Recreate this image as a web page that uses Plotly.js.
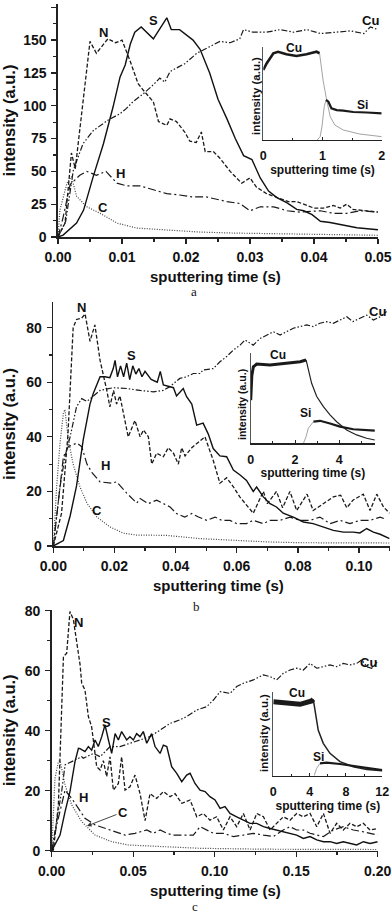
<!DOCTYPE html>
<html><head><meta charset="utf-8">
<script src="https://cdn.plot.ly/plotly-3.0.1.min.js"></script>
<style>html,body{margin:0;padding:0;background:#fff}#chart{width:392px;height:914px}</style>
</head><body><div id="chart"></div>
<script>
// ---------- Panel a (main) ----------
const aS_t = [0, 0.0008, 0.0029, 0.004, 0.0055, 0.0071, 0.0086, 0.0097, 0.0105, 0.0113, 0.012, 0.013, 0.0149, 0.017, 0.0177, 0.019, 0.0211, 0.0222, 0.0237, 0.025, 0.0264, 0.0277, 0.029, 0.0303, 0.0316, 0.0329, 0.0342, 0.0358, 0.0373, 0.0384, 0.0397, 0.041, 0.0425, 0.0446, 0.0467, 0.05];
const aS_v = [0, 1.5, 10.6, 20.5, 46, 71, 99, 122, 131, 147, 156, 160, 151, 167, 158, 158, 150, 143, 125, 105, 90, 75, 62, 59, 45, 35, 30, 26, 21, 20, 17, 12, 11, 9, 7, 5.5];
const aN_t = [0, 0.0011, 0.0021, 0.0027, 0.005, 0.006, 0.0078, 0.009, 0.01, 0.0112, 0.0125, 0.0133, 0.0149, 0.0157, 0.017, 0.0175, 0.0185, 0.0198, 0.0206, 0.0216, 0.0224, 0.023, 0.0243, 0.0253, 0.0269, 0.0287, 0.03, 0.031, 0.0326, 0.0342, 0.036, 0.0373, 0.04, 0.0415, 0.043, 0.0441, 0.0451, 0.0461, 0.048, 0.05];
const aN_v = [0, 10.6, 64, 52, 149, 140, 151, 148, 150, 135, 117, 112, 103, 88, 85, 90, 88, 80, 73, 72, 80, 65, 65, 60, 50, 41, 45, 38, 33, 30, 27, 27, 22, 22, 24, 22, 25, 21, 20, 19];
const aCu_t = [0, 0.0012, 0.0024, 0.0039, 0.0055, 0.0078, 0.0097, 0.0107, 0.0117, 0.0133, 0.0149, 0.0159, 0.0167, 0.0175, 0.019, 0.0198, 0.0217, 0.0237, 0.0253, 0.0269, 0.0284, 0.029, 0.0305, 0.0326, 0.0347, 0.0368, 0.0389, 0.041, 0.0431, 0.0457, 0.0478, 0.0488, 0.05];
const aCu_v = [0, 12, 51, 71, 81, 89, 94, 98, 103, 109, 116, 121, 118, 126, 130, 132, 140, 145, 149, 148, 151, 158, 156, 156, 158, 156, 158, 155, 156, 157, 155, 160, 158];
const aH_t = [0, 0.0008, 0.0019, 0.0034, 0.0045, 0.006, 0.0075, 0.0092, 0.0107, 0.0128, 0.0149, 0.017, 0.019, 0.0211, 0.0232, 0.0264, 0.0284, 0.03, 0.0316, 0.0337, 0.0358, 0.0378, 0.041, 0.0431, 0.0451, 0.0472, 0.05];
const aH_v = [0, 15, 40, 47, 50, 47, 50, 41, 39, 39, 36, 33, 32, 30.5, 30.5, 27, 25.5, 20, 23, 23, 20, 19, 20, 18, 18, 20, 19];
const aC_t = [0, 0.0003, 0.0014, 0.0021, 0.0029, 0.0045, 0.0066, 0.0092, 0.0123, 0.0169, 0.022, 0.0274, 0.0326, 0.0378, 0.0431, 0.05];
const aC_v = [0, 20.5, 41, 46, 31, 23, 18, 10.6, 6.8, 5.6, 3.8, 3, 2.5, 2, 1.5, 1.3];

// ---------- Panel b (main) ----------
const bN_t = [0, 0.0027, 0.0048, 0.0065, 0.0076, 0.0093, 0.0104, 0.012, 0.0136, 0.0153, 0.0175, 0.0185, 0.0197, 0.0207, 0.0218, 0.0245, 0.0267, 0.0284, 0.0295, 0.0311, 0.0322, 0.0338, 0.036, 0.0376, 0.0393, 0.0409, 0.042, 0.0431, 0.0453, 0.0496, 0.0523, 0.0545, 0.0567, 0.0589, 0.061, 0.0654, 0.0687, 0.07, 0.073, 0.075, 0.0774, 0.0796, 0.083, 0.085, 0.0883, 0.0916, 0.094, 0.096, 0.098, 0.1014, 0.1036, 0.1058, 0.108, 0.11];
const bN_v = [0, 12, 41, 80, 83, 83.5, 85, 75, 81, 68, 57, 51, 57, 52, 55, 40, 46, 40, 42.5, 40, 30, 34, 32.7, 36, 34, 30, 36, 33, 36, 40, 31.4, 23, 25, 21.7, 18, 12, 20, 15.5, 20, 14, 20, 13, 19, 13, 15.5, 18, 18.6, 14, 16.8, 19, 13, 19, 14.3, 12];
const bS_t = [0, 0.0033, 0.0055, 0.0076, 0.0098, 0.012, 0.0131, 0.0153, 0.0169, 0.0185, 0.0196, 0.0202, 0.021, 0.022, 0.023, 0.024, 0.025, 0.026, 0.027, 0.028, 0.029, 0.030, 0.032, 0.034, 0.035, 0.036, 0.0393, 0.0403, 0.0425, 0.0436, 0.0453, 0.0469, 0.049, 0.0507, 0.0523, 0.0545, 0.0567, 0.0589, 0.0611, 0.0632, 0.0654, 0.0665, 0.0687, 0.0709, 0.073, 0.0752, 0.0785, 0.0818, 0.085, 0.0883, 0.0916, 0.0949, 0.0981, 0.1003, 0.1025, 0.1047, 0.1069, 0.11];
const bS_v = [0, 2, 11, 22, 39, 52, 56, 62, 62, 61.7, 65, 68, 62, 66, 62, 67, 61, 66, 63, 65, 62, 64, 61, 60, 64, 59, 58, 55, 57.7, 54.7, 52, 44.3, 45, 41, 35.7, 33, 32.7, 27.8, 26, 24, 20, 21.6, 18, 15.5, 14.3, 12, 10.6, 8.8, 8.2, 7, 5.7, 5.1, 5.1, 4.8, 6.4, 5.1, 4.3, 2.7];
const bCu_t = [0, 0.0011, 0.0022, 0.0038, 0.0055, 0.0076, 0.0093, 0.011, 0.0131, 0.0153, 0.0196, 0.024, 0.0284, 0.0327, 0.036, 0.038, 0.0414, 0.0436, 0.0458, 0.048, 0.049, 0.0523, 0.0545, 0.0567, 0.0589, 0.0611, 0.0627, 0.0654, 0.0676, 0.0698, 0.072, 0.0742, 0.0763, 0.0785, 0.0807, 0.0829, 0.085, 0.0872, 0.0894, 0.0916, 0.0938, 0.096, 0.098, 0.1003, 0.1025, 0.1047, 0.1069, 0.109];
const bCu_v = [0, 10.7, 21.7, 32.7, 40, 51, 54, 53, 55, 57, 58, 57.7, 57, 56.5, 57, 58.3, 61.4, 62, 63.2, 63.2, 64.5, 65, 67.5, 69.4, 71.8, 73.6, 75.5, 73.6, 76, 77.3, 78.5, 77.3, 78.5, 79.8, 80.4, 81, 80.4, 81.6, 82.2, 81.6, 82.8, 84, 82.2, 83.4, 84.6, 82.8, 84, 85.9];
const bH_t = [0, 0.0015, 0.0033, 0.0049, 0.0077, 0.0093, 0.011, 0.0126, 0.0153, 0.019, 0.0207, 0.024, 0.0273, 0.0284, 0.031, 0.0338, 0.036, 0.0382, 0.0403, 0.043, 0.0453, 0.0475, 0.0502, 0.0529, 0.0551, 0.0578, 0.06, 0.0632, 0.0654, 0.0687, 0.0709, 0.0742, 0.0774, 0.0807, 0.084, 0.0872, 0.0905, 0.0938, 0.097, 0.1003, 0.1036, 0.1069, 0.109];
const bH_v = [0, 15, 32.7, 36.4, 37.7, 36.4, 30, 27, 23.5, 23, 23.5, 19.4, 15.7, 17.4, 15.5, 16.8, 15.5, 14.3, 11.9, 10.6, 11.9, 10.6, 9.4, 10.6, 9.4, 9.4, 8.2, 8.2, 9.4, 8.2, 9.4, 9.4, 10.6, 9.4, 9.4, 10.6, 8.2, 9.4, 8.2, 9.4, 9.4, 10.6, 9.7];
const bC_t = [0, 0.0011, 0.0022, 0.0033, 0.0038, 0.0049, 0.0065, 0.0087, 0.011, 0.0142, 0.0185, 0.0229, 0.0273, 0.037, 0.048, 0.059, 0.07, 0.0807, 0.095, 0.11];
const bC_v = [0, 21.7, 37.7, 48.7, 50, 39, 30, 21.7, 15.7, 10.7, 7, 4.7, 4, 3.9, 2.7, 2.1, 1.5, 1.2, 1.2, 1.1];

// ---------- Panel c (main) ----------
const cN_t = [0, 0.001, 0.0041, 0.0072, 0.0092, 0.0112, 0.0133, 0.0153, 0.0174, 0.0184, 0.0204, 0.0225, 0.0245, 0.0276, 0.0297, 0.0317, 0.0337, 0.0358, 0.0378, 0.0409, 0.0429, 0.045, 0.048, 0.0511, 0.0542, 0.0573, 0.0603, 0.0644, 0.0685, 0.0726, 0.0757, 0.0798, 0.0849, 0.089, 0.093, 0.0971, 0.1012, 0.1053, 0.1094, 0.1135, 0.1176, 0.1217, 0.1258, 0.1299, 0.134, 0.138, 0.1421, 0.1462, 0.1503, 0.1544, 0.1585, 0.1626, 0.1667, 0.1708, 0.1748, 0.1789, 0.183, 0.1871, 0.1912, 0.1953, 0.2];
const cN_v = [0, 0, 15.2, 64.7, 65.8, 79.7, 77, 69, 62, 55.8, 53.6, 44.7, 41.3, 28, 26.9, 30, 24.7, 31.3, 20.2, 22.4, 31.3, 20.2, 21.3, 25.2, 19, 10, 19, 17.4, 19.7, 18, 19, 15.8, 16.9, 11.3, 12.4, 10.2, 11.3, 6.9, 11.3, 8, 12.4, 6.9, 12.4, 11.3, 6.9, 9.1, 11.3, 10.2, 12.4, 11.3, 12.4, 8, 12.4, 5.8, 9.1, 6.9, 9.1, 8, 9.1, 6.9, 7.4];
const cS_t = [0, 0.0051, 0.0082, 0.0112, 0.0143, 0.0164, 0.0174, 0.0204, 0.0225, 0.0245, 0.0266, 0.0286, 0.0307, 0.0327, 0.0348, 0.0368, 0.0389, 0.0409, 0.0429, 0.046, 0.048, 0.0501, 0.0521, 0.0542, 0.0562, 0.0583, 0.0613, 0.0634, 0.0665, 0.0685, 0.0706, 0.0736, 0.0767, 0.0798, 0.0828, 0.0849, 0.0879, 0.091, 0.0941, 0.0971, 0.1002, 0.1033, 0.1063, 0.1094, 0.1135, 0.1176, 0.1217, 0.1258, 0.1299, 0.134, 0.138, 0.1421, 0.1462, 0.1503, 0.1544, 0.1585, 0.1626, 0.1667, 0.1708, 0.1748, 0.1789, 0.183, 0.1871, 0.1912, 0.1953, 0.2];
const cS_v = [0, 5.2, 13, 19.7, 29.7, 34.1, 34, 33, 34.7, 33.5, 36.9, 34.7, 38, 41.9, 36.9, 32.4, 39, 36.9, 39.7, 36.9, 38, 36.9, 39, 38, 39.7, 35.8, 39, 34.7, 32.4, 35.2, 34.7, 28, 25.8, 23, 25.2, 25.8, 22.4, 20.2, 19.7, 18, 16.9, 14.1, 14.7, 12.4, 11.3, 10.2, 9.1, 9.1, 8, 7.4, 6.9, 6.3, 5.8, 5.2, 4.1, 4.7, 3.6, 3, 3, 2.4, 3, 2.4, 1.9, 3, 2.4, 3];
const cCu_t = [0, 0.0041, 0.0061, 0.0082, 0.0123, 0.0184, 0.0194, 0.0256, 0.0297, 0.0358, 0.0419, 0.048, 0.0542, 0.0603, 0.0665, 0.0726, 0.0787, 0.0828, 0.089, 0.0951, 0.0992, 0.1033, 0.1094, 0.1135, 0.1176, 0.1237, 0.1299, 0.134, 0.138, 0.1421, 0.1462, 0.1503, 0.1544, 0.1585, 0.1626, 0.1667, 0.1708, 0.1748, 0.1789, 0.183, 0.1871, 0.1902, 0.1933, 0.1963, 0.2];
const cCu_v = [0, 13, 19.7, 28.6, 29.7, 31.3, 30.8, 32.4, 31.3, 34.7, 34.7, 35.8, 36.9, 38, 40.2, 42.4, 43.6, 44.7, 46.9, 48, 50.2, 53, 52.4, 54.7, 55.8, 56.9, 58.6, 58, 56.9, 59.1, 60.2, 60.8, 60.2, 62.4, 60.8, 61.3, 61.9, 61.3, 62.4, 61.9, 62.4, 63.6, 61.3, 60.8, 63];
const cH_t = [0, 0.0031, 0.0082, 0.0123, 0.0164, 0.0204, 0.0266, 0.0327, 0.0389, 0.045, 0.0511, 0.0583, 0.0624, 0.0665, 0.0706, 0.0746, 0.0808, 0.0869, 0.091, 0.0951, 0.0992, 0.1053, 0.1115, 0.1176, 0.1237, 0.1299, 0.136, 0.1421, 0.1462, 0.1503, 0.1544, 0.1585, 0.1626, 0.1667, 0.1697, 0.1728, 0.1789, 0.1851, 0.1912, 0.1953, 0.2];
const cH_v = [0, 8.6, 20.2, 17.4, 14.1, 10.8, 8.6, 7.4, 6.3, 5.2, 5.8, 6.9, 5.8, 6.9, 5.8, 5.2, 5.2, 5.2, 8, 6.9, 5.8, 5.8, 4.7, 5.2, 5.8, 5.2, 4.7, 6.9, 8, 6.9, 6.9, 5.8, 5.2, 4.7, 5.8, 6.9, 8, 6.9, 6.3, 5.8, 5.2];
const cC_t = [0, 0.002, 0.0041, 0.0051, 0.0082, 0.0123, 0.0184, 0.0266, 0.0368, 0.047, 0.0706, 0.091, 0.13, 0.2];
const cC_v = [0, 24, 29.7, 30, 21.9, 15.2, 9.7, 5.2, 3, 1.9, 1.3, 0.8, 0.5, 0.4];

// ---------- Insets (relative intensity) ----------
const iaCu_t = [0, 0.056, 0.17, 0.25, 0.39, 0.56, 0.73, 0.9, 0.95];
const iaCu_v = [75, 82, 93, 94.6, 92, 90, 92, 94.6, 93];
const iaCuTail_t = [0.95, 1.01, 1.07, 1.13, 1.21, 1.35, 1.63, 2];
const iaCuTail_v = [93, 64, 43, 25, 16, 10.7, 6.4, 3.6];
const iaSiRise_t = [0.91, 0.96, 0.99, 1.03, 1.06];
const iaSiRise_v = [0, 3.6, 14, 36, 43];
const iaSi_t = [1.06, 1.1, 1.15, 1.24, 1.35, 1.52, 1.75, 2];
const iaSi_v = [43, 41, 34, 32, 31.5, 30, 29.5, 28.6];

const ibCu_t = [0, 0.05, 0.12, 0.27, 0.87, 1.62, 2.23, 2.5];
const ibCu_v = [48, 75, 85, 88, 87, 89, 90.7, 92.6];
const ibCuTail_t = [2.5, 2.6, 2.75, 2.98, 3.28, 3.58, 3.88, 4.33, 4.78, 5.23, 5.6];
const ibCuTail_v = [92.6, 81.5, 66.7, 52, 40.7, 31.5, 24, 14.8, 9.3, 5.6, 3.7];
const ibSiRise_t = [2.38, 2.5, 2.6, 2.83];
const ibSiRise_v = [0, 7.4, 16.7, 24];
const ibSi_t = [2.83, 3.13, 3.58, 4.03, 4.63, 5.6];
const ibSi_v = [24, 25, 22, 18.5, 15.6, 14];

const icCu_t = [0, 1.47, 2.94, 4.22, 4.4];
const icCu_v = [88, 86, 85, 89, 91];
const icCuTail_t = [4.4, 4.6, 4.95, 5.5, 6.24, 7.34, 8.8, 10.3, 12];
const icCuTail_v = [91, 78, 54, 38.5, 26.6, 16.7, 10.7, 7.5, 6];
const icSiRise_t = [4.5, 4.77, 5.14];
const icSiRise_v = [0, 8.7, 14.7];
const icSi_t = [5.14, 5.87, 7.34, 9.5, 12];
const icSi_v = [14.7, 15.5, 13.9, 10.7, 6.7];

// ---------- Styling ----------
const W = 392, H = 914;
const FONT = 'Liberation Sans, Arial, sans-serif';
const SERIF = 'Liberation Serif, Times New Roman, serif';
const DASH = {
  N: '4px,2px',
  Cu: '6px,2px,1.5px,2px,1.5px,2px',
  H: '8px,3px,2px,3px',
  C: '1px,1.5px',
  S: 'solid'
};
const traces = [];
function add(x, y, xa, ya, dash, width, color) {
  traces.push({type: 'scatter', mode: 'lines', x: x, y: y, xaxis: xa, yaxis: ya,
    line: {color: color, width: width, dash: dash}, hoverinfo: 'skip', showlegend: false});
}
function panel(xa, ya, S_t, S_v, N_t, N_v, Cu_t, Cu_v, H_t, H_v, C_t, C_v) {
  add(C_t, C_v, xa, ya, DASH.C, 1.2, '#444');
  add(H_t, H_v, xa, ya, DASH.H, 1.2, '#1a1a1a');
  add(Cu_t, Cu_v, xa, ya, DASH.Cu, 1.2, '#1a1a1a');
  add(N_t, N_v, xa, ya, DASH.N, 1.3, '#1a1a1a');
  add(S_t, S_v, xa, ya, DASH.S, 1.4, '#111');
}
panel('x', 'y', aS_t, aS_v, aN_t, aN_v, aCu_t, aCu_v, aH_t, aH_v, aC_t, aC_v);
panel('x2', 'y2', bS_t, bS_v, bN_t, bN_v, bCu_t, bCu_v, bH_t, bH_v, bC_t, bC_v);
panel('x3', 'y3', cS_t, cS_v, cN_t, cN_v, cCu_t, cCu_v, cH_t, cH_v, cC_t, cC_v);

function inset(xa, ya, cu_t, cu_v, cut_t, cut_v, sr_t, sr_v, si_t, si_v, plateauW, tailColor, tailW) {
  add(cut_t, cut_v, xa, ya, 'solid', tailW, tailColor);
  add(sr_t, sr_v, xa, ya, 'solid', 0.9, '#999');
  add(cu_t, cu_v, xa, ya, 'solid', plateauW, '#1a1a1a');
  add(si_t, si_v, xa, ya, 'solid', 2.2, '#1a1a1a');
}
inset('x4', 'y4', iaCu_t, iaCu_v, iaCuTail_t, iaCuTail_v, iaSiRise_t, iaSiRise_v, iaSi_t, iaSi_v, 2.6, '#999', 0.9);
inset('x5', 'y5', ibCu_t, ibCu_v, ibCuTail_t, ibCuTail_v, ibSiRise_t, ibSiRise_v, ibSi_t, ibSi_v, 3, '#222', 1.2);
inset('x6', 'y6', icCu_t, icCu_v, icCuTail_t, icCuTail_v, icSiRise_t, icSiRise_v, icSi_t, icSi_v, 5, '#222', 1.5);

const px = v => v / W;
const py = v => 1 - v / H;

function mainX(dom, range, dtick, minor, anchor) {
  return {domain: [px(dom[0]), px(dom[1])], range: range, anchor: anchor, dtick: dtick, tick0: 0,
    tickformat: '.2f', showline: true, linecolor: '#222', linewidth: 1.6, ticks: 'outside', ticklen: 5,
    tickwidth: 1.3, tickcolor: '#222', showgrid: false, zeroline: false, ticklabelstandoff: 2,
    minor: {ticks: 'outside', ticklen: 3, dtick: minor, tick0: 0, tickcolor: '#222', tickwidth: 1.1, showgrid: false},
    tickfont: {family: FONT, size: 14, weight: 'bold', color: '#111'}};
}
function mainY(dom, range, dtick, minor, anchor) {
  return {domain: [py(dom[1]), py(dom[0])], range: range, anchor: anchor, dtick: dtick, tick0: 0,
    showline: true, linecolor: '#222', linewidth: 1.6, ticks: 'outside', ticklen: 5,
    tickwidth: 1.3, tickcolor: '#222', showgrid: false, zeroline: false, ticklabelstandoff: 2,
    minor: {ticks: 'outside', ticklen: 3, dtick: minor, tick0: 0, tickcolor: '#222', tickwidth: 1.1, showgrid: false},
    tickfont: {family: FONT, size: 14, weight: 'bold', color: '#111'},
    title: {text: 'intensity (a.u.)', standoff: 8, font: {family: FONT, size: 16.5, weight: 'bold', color: '#111'}}};
}
function insetX(dom, range, dtick, minor, anchor) {
  return {domain: [px(dom[0]), px(dom[1])], range: range, anchor: anchor, dtick: dtick, tick0: 0,
    showline: true, linecolor: '#222', linewidth: 1.2, ticks: 'inside', ticklen: 3,
    tickwidth: 1, tickcolor: '#222', showgrid: false, zeroline: false, ticklabelstandoff: 4,
    minor: {ticks: 'inside', ticklen: 2, dtick: minor, tick0: 0, tickcolor: '#222', showgrid: false},
    tickfont: {family: FONT, size: 12.5, weight: 'bold', color: '#111'},
    title: {text: 'sputtering time (s)', standoff: 1, font: {family: FONT, size: 12, weight: 'bold', color: '#111'}}};
}
function insetY(dom, anchor) {
  return {domain: [py(dom[1]), py(dom[0])], range: [0, 100], anchor: anchor,
    showline: true, linecolor: '#555', linewidth: 1.2, ticks: '', showticklabels: false,
    showgrid: false, zeroline: false};
}

const layout = {
  width: W, height: H, margin: {l: 0, r: 0, t: 0, b: 0},
  paper_bgcolor: '#fff', plot_bgcolor: 'rgba(0,0,0,0)', showlegend: false,
  xaxis: mainX([58, 378], [0, 0.05], 0.01, 0.005, 'y'),
  yaxis: mainY([4, 237], [0, 177.5], 25, 12.5, 'x'),
  xaxis2: mainX([53.3, 389.6], [0, 0.11], 0.02, 0.01, 'y2'),
  yaxis2: mainY([302, 546], [0, 89.4], 20, 10, 'x2'),
  xaxis3: mainX([51.7, 377.7], [0, 0.2], 0.05, 0.025, 'y3'),
  yaxis3: mainY([610, 850.7], [0, 80.2], 20, 10, 'x3'),
  xaxis4: insetX([263.3, 381.7], [0, 2], 1, 0.5, 'y4'),
  yaxis4: insetY([46.7, 140], 'x4'),
  xaxis5: insetX([250.7, 375], [0, 5.61], 2, 1, 'y5'),
  yaxis5: insetY([353.3, 443.3], 'x5'),
  xaxis6: insetX([273.3, 382.3], [0, 12], 4, 2, 'y6'),
  yaxis6: insetY([691.7, 775.7], 'x6'),
  annotations: []
};

function label(text, x, y, size, extra) {
  const a = Object.assign({text: text, x: px(x), y: py(y), xref: 'paper', yref: 'paper',
    xanchor: 'center', yanchor: 'middle', showarrow: false,
    font: {family: FONT, size: size, weight: 'bold', color: '#111'}}, extra || {});
  layout.annotations.push(a);
}
// main x-axis titles
label('sputtering time (s)', 215, 276, 15);
label('sputtering time (s)', 218, 585, 15);
label('sputtering time (s)', 216, 890, 15);
// inset y-axis titles
label('intensity (a.u.)', 256, 96, 11.5, {textangle: -90});
label('intensity (a.u.)', 242, 405, 10.5, {textangle: -90});
label('intensity (a.u.)', 264, 733, 11.5, {textangle: -90});
// panel a labels
label('N', 103, 32, 13); label('S', 153, 20, 13); label('Cu', 370, 20, 13);
label('H', 120, 173, 13); label('C', 103, 207, 13);
label('Cu', 294, 48, 12); label('Si', 362, 105, 12);
// panel b labels
label('N', 81, 307, 13); label('S', 131, 355, 13); label('Cu', 377, 312, 13);
label('H', 105, 465, 13); label('C', 97, 510, 13);
label('Cu', 278, 355, 12); label('Si', 305, 413, 12);
// panel c labels
label('N', 78, 622, 13); label('S', 106, 722, 13); label('Cu', 368, 662, 13);
label('H', 83, 797, 13);
layout.annotations.push({text: 'C', x: px(87), y: py(826), xref: 'paper', yref: 'paper',
  ax: 36, ay: -14, axref: 'pixel', ayref: 'pixel', showarrow: true, arrowhead: 2, arrowsize: 1,
  arrowwidth: 0.9, arrowcolor: '#333', standoff: 0,
  font: {family: FONT, size: 13, weight: 'bold', color: '#111'}});
label('Cu', 297, 693, 12); label('Si', 318, 757, 12);
// panel letters
label('a', 194, 291, 13, {font: {family: SERIF, size: 13, color: '#111'}});
label('b', 196, 606, 13, {font: {family: SERIF, size: 13, color: '#111'}});
label('c', 195, 906, 13, {font: {family: SERIF, size: 13, color: '#111'}});

Plotly.newPlot('chart', traces, layout, {staticPlot: true, displayModeBar: false});
</script></body></html>
